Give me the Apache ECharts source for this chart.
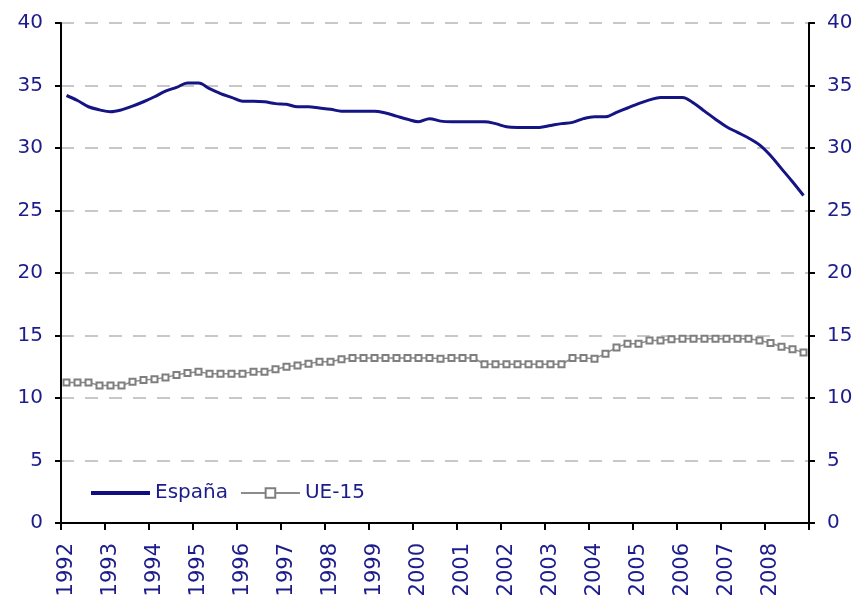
<!DOCTYPE html>
<html>
<head>
<meta charset="utf-8">
<script src="https://cdn.jsdelivr.net/npm/echarts@6/dist/echarts.min.js"></script>
<style>html,body{margin:0;padding:0;background:#fff}#c{width:859px;height:601px}</style>
</head>
<body>
<div id="c"></div>
<script>
var years = ['1992','1993','1994','1995','1996','1997','1998','1999','2000','2001','2002','2003','2004','2005','2006','2007','2008'];
var quarters = ['I','II','III','IV'];
var yTicks = [0, 5, 10, 15, 20, 25, 30, 35, 40];

var espana = [
  34.2, 33.8, 33.3, 33.05,
  32.9, 33.05, 33.35, 33.7,
  34.1, 34.55, 34.85, 35.2,
  35.2, 34.75, 34.35, 34.05,
  33.75, 33.75, 33.7, 33.55,
  33.5, 33.3, 33.3, 33.2,
  33.1, 32.95, 32.95, 32.95,
  32.95, 32.8, 32.55, 32.3,
  32.1, 32.35, 32.15, 32.1,
  32.1, 32.1, 32.1, 31.95,
  31.7, 31.65, 31.65, 31.65,
  31.8, 31.95, 32.05, 32.35,
  32.5, 32.5, 32.85, 33.2,
  33.55, 33.85, 34.05, 34.05,
  34.05, 33.6, 32.95, 32.3,
  31.7, 31.25, 30.8, 30.25,
  29.4, 28.35, 27.3, 26.2
];
var ue15 = [
  11.25, 11.25, 11.25, 11.0,
  11.0, 11.0, 11.3, 11.45,
  11.5, 11.65, 11.85, 12.0,
  12.1, 11.95, 11.95, 11.95,
  11.95, 12.1, 12.1, 12.3,
  12.5, 12.6, 12.75, 12.9,
  12.9, 13.1, 13.2, 13.2,
  13.2, 13.2, 13.2, 13.2,
  13.2, 13.2, 13.15, 13.2,
  13.2, 13.2, 12.7, 12.7,
  12.7, 12.7, 12.7, 12.7,
  12.7, 12.7, 13.2, 13.2,
  13.15, 13.55, 14.05, 14.35,
  14.35, 14.6, 14.6, 14.7,
  14.75, 14.75, 14.75, 14.75,
  14.75, 14.75, 14.75, 14.6,
  14.4, 14.1, 13.9, 13.65
];

var categories = [];
years.forEach(function (y) { quarters.forEach(function (q) { categories.push(y + ' ' + q); }); });

var txtColor = '#1c1c8c';
var font = 'DejaVu Sans';

var yAxisBase = {
  type: 'value', min: yTicks[0], max: yTicks[yTicks.length - 1], interval: 5,
  axisLine: { show: true, lineStyle: { color: '#000', width: 2 } },
  axisTick: { show: true, length: 6, lineStyle: { color: '#000', width: 2 } },
  axisLabel: { color: txtColor, fontSize: 20, fontFamily: font, margin: 18 }
};

var chart = echarts.init(document.getElementById('c'));
chart.setOption({
  animation: false,
  backgroundColor: '#fff',
  grid: { left: 61, right: 50, top: 23, bottom: 78, containLabel: false },
  legend: {
    left: 89, top: 483, padding: 0,
    itemWidth: 59, itemHeight: 12, itemGap: 12,
    textStyle: { color: txtColor, fontSize: 20, fontFamily: font },
    data: [
      { name: 'España', itemStyle: { opacity: 0 }, lineStyle: { width: 4, color: '#0f0f80' } },
      { name: 'UE-15' }
    ]
  },
  xAxis: {
    type: 'category', data: categories, boundaryGap: true,
    axisLine: { lineStyle: { color: '#000', width: 2 } },
    axisTick: { show: true, interval: 3, length: 7, lineStyle: { color: '#000', width: 2 } },
    axisLabel: {
      interval: 3, rotate: 90, margin: 20,
      color: txtColor, fontSize: 21, fontFamily: font,
      formatter: function (v) { return v.slice(0, 4); }
    },
    splitLine: { show: false }
  },
  yAxis: [
    Object.assign({}, yAxisBase, {
      position: 'left',
      splitLine: { show: true, lineStyle: { color: '#c8c8c8', width: 2, type: [13, 11] } }
    }),
    Object.assign({}, yAxisBase, { position: 'right', splitLine: { show: false } })
  ],
  series: [
    {
      name: 'España', type: 'line', data: espana, yAxisIndex: 0,
      smooth: 0.35, symbol: 'none',
      lineStyle: { color: '#141485', width: 3 },
      itemStyle: { color: '#141485' }
    },
    {
      name: 'UE-15', type: 'line', data: ue15, yAxisIndex: 0,
      symbol: 'rect', symbolSize: 6, showSymbol: true, showAllSymbol: true,
      lineStyle: { color: '#8c8c8c', width: 1.5 },
      itemStyle: { color: '#ffffff', borderColor: '#7f7f7f', borderWidth: 2 }
    }
  ]
});
</script>
</body>
</html>
